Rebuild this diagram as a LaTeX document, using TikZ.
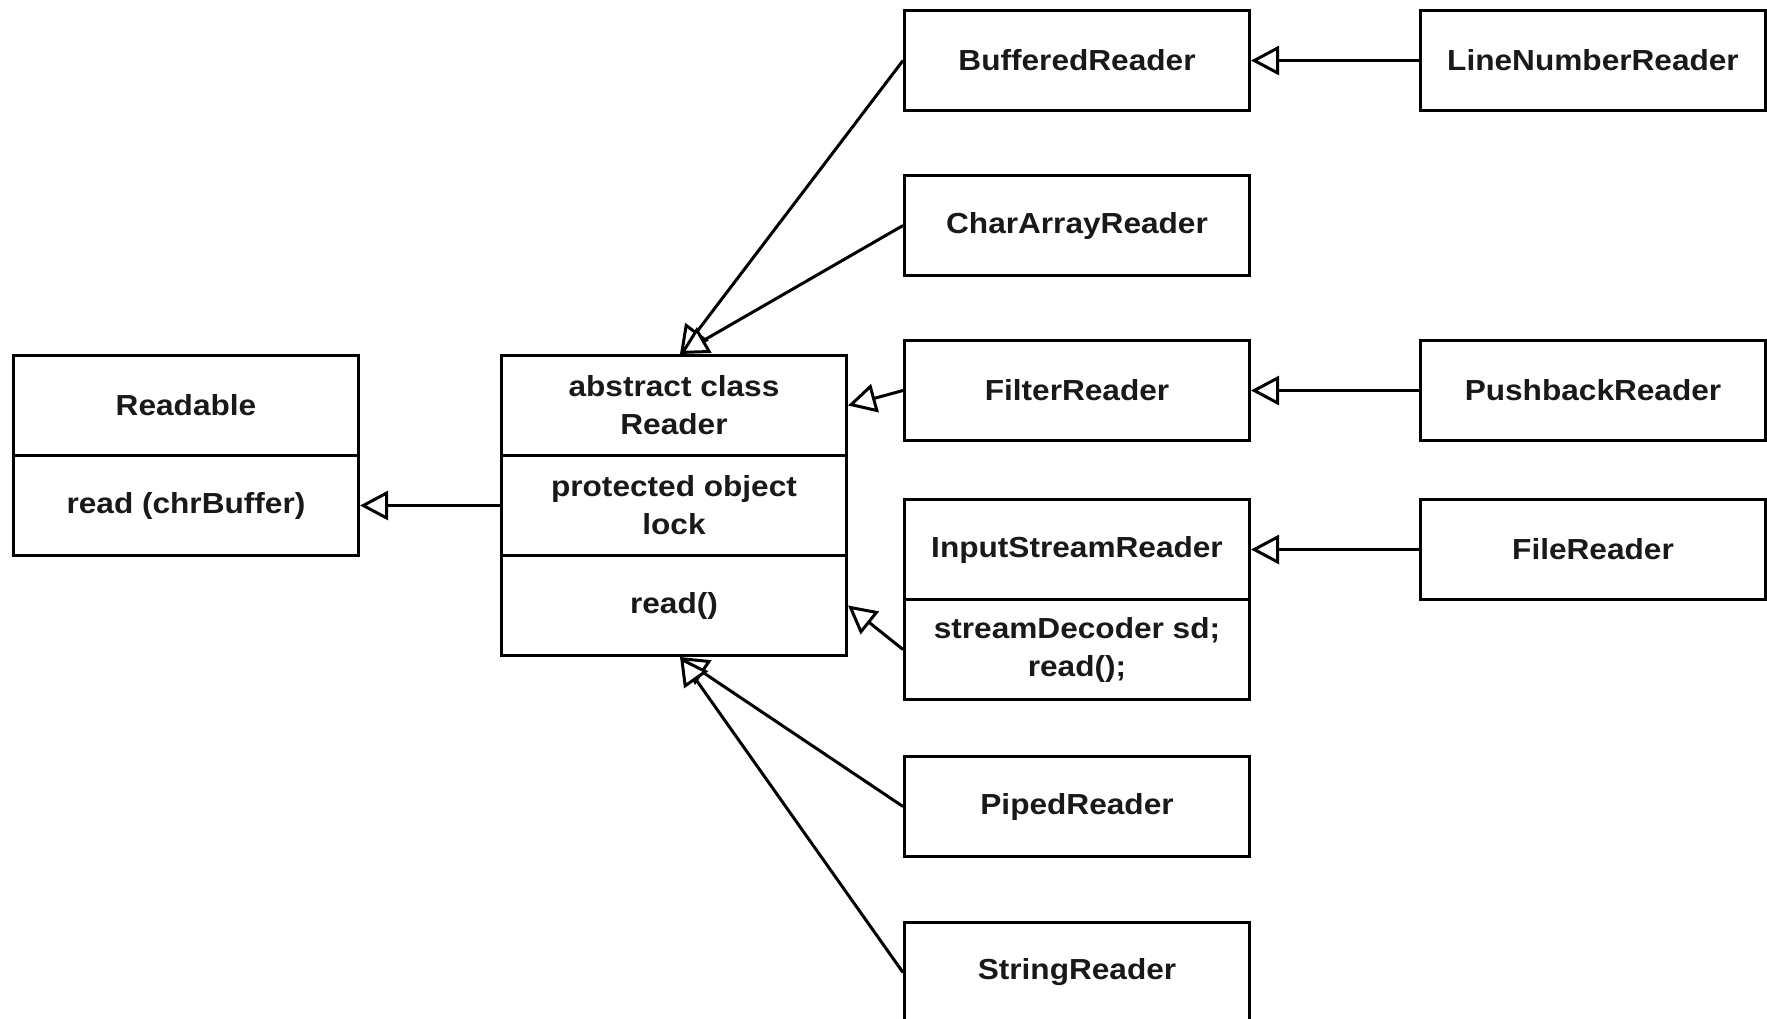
\documentclass[tikz,border=0pt]{standalone}
\usepackage{fontspec}
\setmainfont{Liberation Sans}[FakeStretch=1.09]
\usetikzlibrary{arrows.meta,calc}

\begin{document}
\begin{tikzpicture}[x=1pt,y=-1pt,
  classbox/.style={draw=black, line width=3pt, fill=white,
    minimum width=345pt, minimum height=100pt, inner sep=0pt,
    align=center, anchor=north west,
    font=\fontsize{29}{38}\selectfont\bfseries, text=black!90},
  inherit/.style={draw=black, line width=3pt,
    -{Triangle[length=28pt, width=29pt, fill=white]}},
]
\useasboundingbox (0,0) rectangle (1767,1018);
\clip (0,0) rectangle (1767,1018);
\fill[white] (0,0) rectangle (1767,1018);

% interface Readable
\node[classbox] (readableT) at (12,354) {Readable};
\node[classbox] (readableB) at (12,454) {read (chrBuffer)};

% abstract base class
\node[classbox] (readerT) at (500,354) {abstract class\\Reader};
\node[classbox] (readerM) at (500,454) {protected object\\lock};
\node[classbox] (readerB) at (500,554) {read()};

% direct subclasses
\node[classbox] (buffered)  at (903,9)   {BufferedReader};
\node[classbox] (chararray) at (903,174) {CharArrayReader};
\node[classbox] (filter)    at (903,339) {FilterReader};
\node[classbox] (isrT)      at (903,498) {InputStreamReader};
\node[classbox] (isrB)      at (903,598) {streamDecoder sd;\\read();};
\node[classbox] (piped)     at (903,755) {PipedReader};
\node[classbox] (string)    at (903,921) {StringReader};

% second-level subclasses
\node[classbox] (lineno)   at (1419,9)   {LineNumberReader};
\node[classbox] (pushback) at (1419,339) {PushbackReader};
\node[classbox] (file)     at (1419,498) {FileReader};

% shared arrow targets on the Reader box
\coordinate (rtop) at ($(readerT.north)+(6,0)$);
\coordinate (rbot) at ($(readerB.south)+(6,0)$);

% generalisation arrows
\draw[inherit] (readerM.west) -- (readableB.east);
\draw[inherit] (buffered.west) -- (rtop);
\draw[inherit] (chararray.west) -- (rtop);
\draw[inherit] (filter.west) -- (readerT.east);
\draw[inherit] (isrB.west) -- (readerB.east);
\draw[inherit] (piped.west) -- (rbot);
\draw[inherit] (string.west) -- (rbot);
\draw[inherit] (lineno.west) -- (buffered.east);
\draw[inherit] (pushback.west) -- (filter.east);
\draw[inherit] (file.west) -- (isrT.east);
\end{tikzpicture}
\end{document}
